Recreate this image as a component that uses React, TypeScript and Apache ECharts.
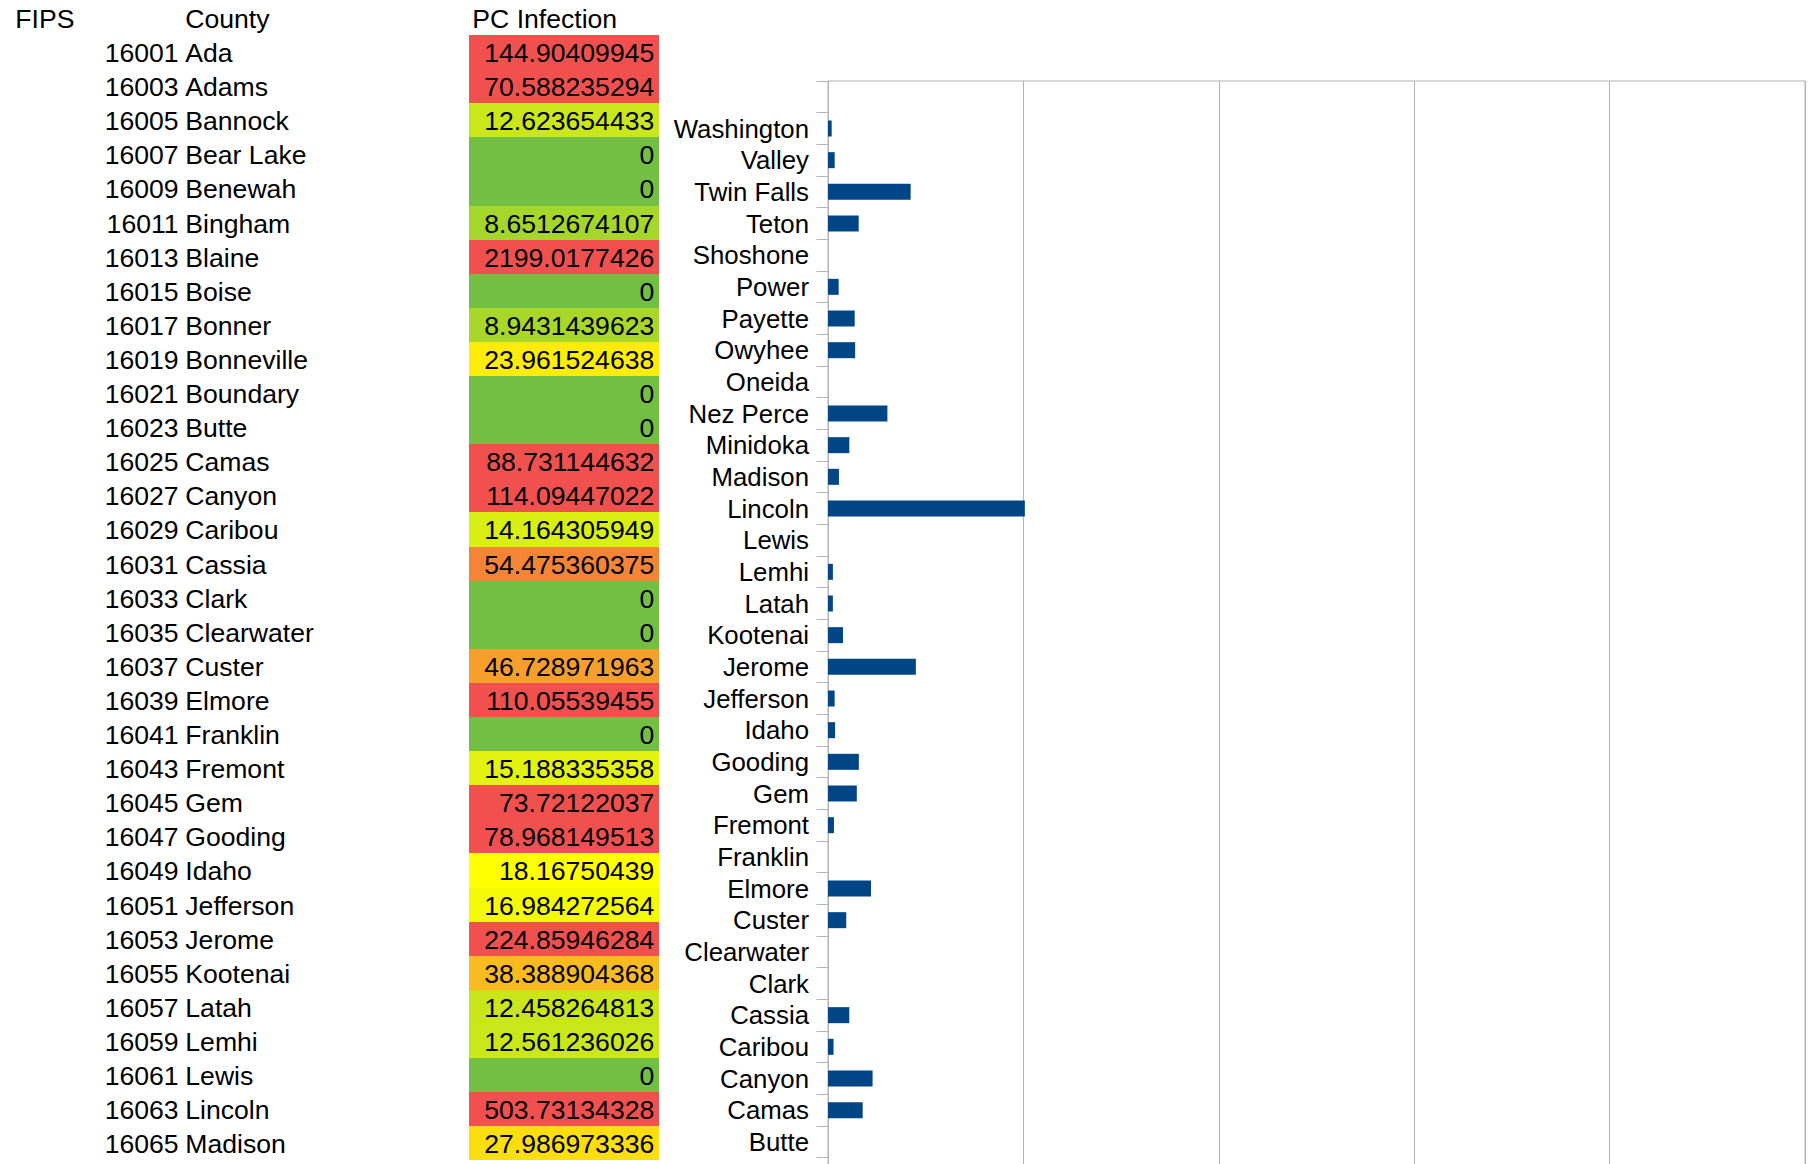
import React, { useEffect, useRef } from "react";
import * as echarts from "echarts";

// ---------- data ----------
const headers = ["FIPS", "County", "PC Infection"];

const fips = [
  16001, 16003, 16005, 16007, 16009, 16011, 16013, 16015, 16017, 16019, 16021,
  16023, 16025, 16027, 16029, 16031, 16033, 16035, 16037, 16039, 16041, 16043,
  16045, 16047, 16049, 16051, 16053, 16055, 16057, 16059, 16061, 16063, 16065,
  16067, 16069, 16071, 16073, 16075, 16077, 16079, 16081, 16083, 16085, 16087,
];

const counties = [
  "Ada", "Adams", "Bannock", "Bear Lake", "Benewah", "Bingham", "Blaine",
  "Boise", "Bonner", "Bonneville", "Boundary", "Butte", "Camas", "Canyon",
  "Caribou", "Cassia", "Clark", "Clearwater", "Custer", "Elmore", "Franklin",
  "Fremont", "Gem", "Gooding", "Idaho", "Jefferson", "Jerome", "Kootenai",
  "Latah", "Lemhi", "Lewis", "Lincoln", "Madison", "Minidoka", "Nez Perce",
  "Oneida", "Owyhee", "Payette", "Power", "Shoshone", "Teton", "Twin Falls",
  "Valley", "Washington",
];

const pcInfection = [
  144.90409945, 70.588235294, 12.623654433, 0, 0, 8.6512674107, 2199.0177426,
  0, 8.9431439623, 23.961524638, 0, 0, 88.731144632, 114.09447022,
  14.164305949, 54.475360375, 0, 0, 46.728971963, 110.05539455, 0,
  15.188335358, 73.72122037, 78.968149513, 18.16750439, 16.984272564,
  224.85946284, 38.388904368, 12.458264813, 12.561236026, 0, 503.73134328,
  27.986973336, 54.6, 152, 0, 69.5, 68.3, 27.3, 0, 78.5, 211.5, 17.1, 9.4,
];

const valueTicks = [0, 500, 1000, 1500, 2000, 2500];

// ---------- styles ----------
const FONT = "Liberation Sans";
const TABLE_FONT_SIZE = 26.6;
const CHART_FONT_SIZE = 25.8;
const VISIBLE_TABLE_ROWS = 33;
const BAR_COLOR = "#004586";
const GRID_COLOR = "#b3b3b3";
// conditional-format colour scale (value stop -> rgb)
const COLOR_SCALE: { v: number; c: number[] }[] = [
  { v: 3.3, c: [114, 191, 68] },
  { v: 18.17, c: [255, 255, 0] },
  { v: 70, c: [240, 81, 79] },
];

function scaleColor(v: number): string {
  const s = COLOR_SCALE;
  let c: number[];
  if (v <= s[0].v) c = s[0].c;
  else if (v >= s[s.length - 1].v) c = s[s.length - 1].c;
  else {
    let k = 0;
    while (v > s[k + 1].v) k++;
    const t = (v - s[k].v) / (s[k + 1].v - s[k].v);
    c = s[k].c.map((a, j) => Math.round(a + (s[k + 1].c[j] - a) * t));
  }
  return `rgb(${c[0]},${c[1]},${c[2]})`;
}

function buildTable() {
  const els: any[] = [];
  const rowTop0 = 35;
  const rowH = 34.1;
  const colCLeft = 469;
  const colCRight = 659;
  const headerY = 19;
  const txt = (text: string, x: number, y: number, align: string) => ({
    type: "text",
    z: 10,
    silent: true,
    style: {
      text,
      x,
      y,
      fill: "#000",
      fontSize: TABLE_FONT_SIZE,
      fontFamily: FONT,
      align,
      textAlign: align,
      verticalAlign: "middle",
      textVerticalAlign: "middle",
    },
  });
  els.push(txt(headers[0], 15.3, headerY, "left"));
  els.push(txt(headers[1], 185.3, headerY, "left"));
  els.push(txt(headers[2], 472.3, headerY, "left"));
  for (let i = 0; i < VISIBLE_TABLE_ROWS; i++) {
    const top = Math.round(rowTop0 + rowH * i);
    const bottom = Math.round(rowTop0 + rowH * (i + 1));
    els.push({
      type: "rect",
      z: 5,
      silent: true,
      shape: { x: colCLeft, y: top, width: colCRight - colCLeft, height: bottom - top },
      style: { fill: scaleColor(pcInfection[i]) },
    });
    const cy = rowTop0 + rowH * i + 18;
    els.push(txt(String(fips[i]), 178.6, cy, "right"));
    els.push(txt(counties[i], 185.3, cy, "left"));
    els.push(txt(String(pcInfection[i]), 654.3, cy, "right"));
  }
  return els;
}

export default function App() {
  const ref = useRef<HTMLDivElement>(null);

  useEffect(() => {
    document.body.style.margin = "0";
    if (!ref.current) return;
    const chart = echarts.init(ref.current, null, { renderer: "svg" });

    const categories = [...counties, ""];
    const values: (number | null)[] = [...pcInfection, null];

    const option: any = {
      animation: false,
      backgroundColor: "#ffffff",
      textStyle: { fontFamily: FONT },
      grid: {
        left: 828,
        top: 81,
        width: 977,
        height: 1425,
        show: true,
        borderColor: GRID_COLOR,
        borderWidth: 1,
        backgroundColor: "transparent",
        containLabel: false,
        outerBoundsMode: "none",
      },
      xAxis: {
        type: "value",
        min: valueTicks[0],
        max: valueTicks[valueTicks.length - 1],
        interval: valueTicks[1] - valueTicks[0],
        position: "bottom",
        axisLine: { show: true, lineStyle: { color: GRID_COLOR, width: 1 } },
        axisTick: { show: true, length: 11.5, lineStyle: { color: GRID_COLOR } },
        splitLine: { show: true, lineStyle: { color: GRID_COLOR, width: 1 } },
        axisLabel: {
          fontSize: CHART_FONT_SIZE,
          fontFamily: FONT,
          color: "#000",
          margin: 10,
        },
      },
      yAxis: {
        type: "category",
        data: categories,
        axisLine: { show: true, lineStyle: { color: GRID_COLOR, width: 1 } },
        axisTick: { show: true, length: 11.5, lineStyle: { color: GRID_COLOR } },
        splitLine: { show: false },
        axisLabel: {
          interval: 0,
          margin: 19,
          fontSize: CHART_FONT_SIZE,
          fontFamily: FONT,
          color: "#000",
          hideOverlap: false,
        },
      },
      series: [
        {
          type: "bar",
          data: values,
          barWidth: 16,
          itemStyle: { color: BAR_COLOR },
          silent: true,
        },
      ],
      graphic: { elements: buildTable() },
    };

    chart.setOption(option);
    return () => {
      chart.dispose();
    };
  }, []);

  return (
    <div
      style={{
        position: "relative",
        width: 1809,
        height: 1164,
        overflow: "hidden",
        background: "#fff",
      }}
    >
      <div
        ref={ref}
        style={{ position: "absolute", left: 0, top: 0, width: 1809, height: 1600 }}
      />
    </div>
  );
}
